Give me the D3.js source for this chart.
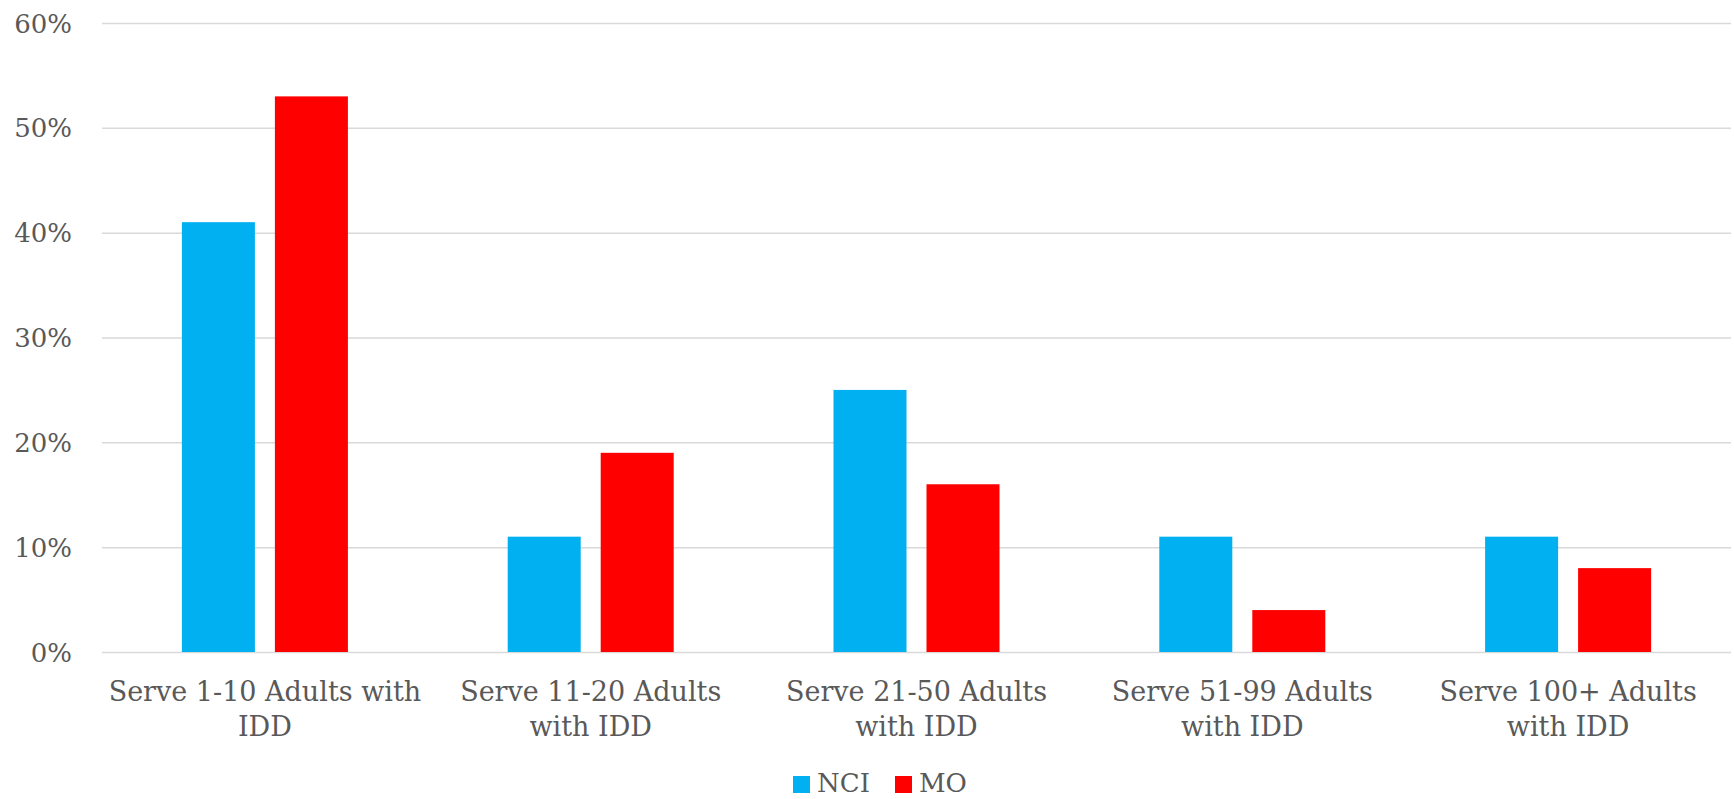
<!DOCTYPE html>
<html>
<head>
<meta charset="utf-8">
<script src="https://cdn.jsdelivr.net/npm/d3@7"></script>
<style>
  html, body { margin: 0; padding: 0; background: #fff; }
  svg { display: block; }
  text { font-family: "DejaVu Serif", serif; fill: #595959; }
</style>
</head>
<body>
<svg id="chart" width="1734" height="799"></svg>
<script>
const categories = ["Serve 1-10 Adults with IDD", "Serve 11-20 Adults with IDD", "Serve 21-50 Adults with IDD", "Serve 51-99 Adults with IDD", "Serve 100+ Adults with IDD"];
const categoryLines = [
  ["Serve 1-10 Adults with", "IDD"],
  ["Serve 11-20 Adults", "with IDD"],
  ["Serve 21-50 Adults", "with IDD"],
  ["Serve 51-99 Adults", "with IDD"],
  ["Serve 100+ Adults", "with IDD"]
];
const seriesNames = ["NCI", "MO"];
const nciValues = [0.41, 0.11, 0.25, 0.11, 0.11];
const moValues = [0.53, 0.19, 0.16, 0.04, 0.08];
const yTicks = [0, 0.1, 0.2, 0.3, 0.4, 0.5, 0.6];
const colors = ["#00B0F0", "#FF0000"];

const svg = d3.select("#chart");
const mLeft = 102, mRight = 1731, mTop = 23, mBottom = 652;

const x0 = d3.scaleBand().domain(categories).range([mLeft, mRight]).padding(0);
const x1 = d3.scaleBand().domain(seriesNames).range([0, x0.bandwidth()])
  .paddingInner(0.215).paddingOuter(0.859);
const y = d3.scaleLinear().domain([0, 0.6]).range([mBottom, mTop]);
const color = d3.scaleOrdinal().domain(seriesNames).range(colors);

// gridlines
const yAxis = d3.axisLeft(y).tickValues(yTicks).tickFormat(d3.format(".0%"))
  .tickSize(-(mRight - mLeft)).tickPadding(30);
const gy = svg.append("g").attr("transform", `translate(${mLeft},0)`).call(yAxis);
gy.select(".domain").remove();
gy.selectAll(".tick line").attr("stroke", "#d9d9d9").attr("stroke-width", 1.5);
gy.selectAll(".tick text").attr("font-size", 26).attr("fill", "#595959")
  .style("font-family", "DejaVu Serif, serif").attr("dy", "0.35em");

// bars
const data = categories.map((c, i) => ({cat: c, vals: [
  {s: "NCI", v: nciValues[i]}, {s: "MO", v: moValues[i]}
]}));
const groups = svg.append("g").selectAll("g").data(data).join("g")
  .attr("transform", d => `translate(${x0(d.cat)},0)`);
groups.selectAll("rect").data(d => d.vals).join("rect")
  .attr("x", d => x1(d.s))
  .attr("width", x1.bandwidth())
  .attr("y", d => y(d.v))
  .attr("height", d => y(0) - y(d.v))
  .attr("fill", d => color(d.s));

// category labels
const xAxis = d3.axisBottom(x0).tickSize(0).tickFormat(() => "");
const gx = svg.append("g").attr("transform", `translate(0,${mBottom})`).call(xAxis);
gx.select(".domain").remove();
gx.selectAll(".tick").each(function(d, i) {
  const t = d3.select(this).append("text")
    .attr("text-anchor", "middle").attr("font-size", 27).attr("fill", "#595959");
  categoryLines[i].forEach((line, j) => {
    t.append("tspan").attr("x", 0).attr("y", 49 + j * 35).text(line);
  });
});

// legend
const legend = svg.append("g");
const legendX = [793, 895];
seriesNames.forEach((s, i) => {
  legend.append("rect").attr("x", legendX[i]).attr("y", 776).attr("width", 17).attr("height", 17)
    .attr("fill", color(s));
  legend.append("text").attr("x", legendX[i] + 24).attr("y", 792).attr("font-size", 26).text(s);
});
</script>
</body>
</html>
